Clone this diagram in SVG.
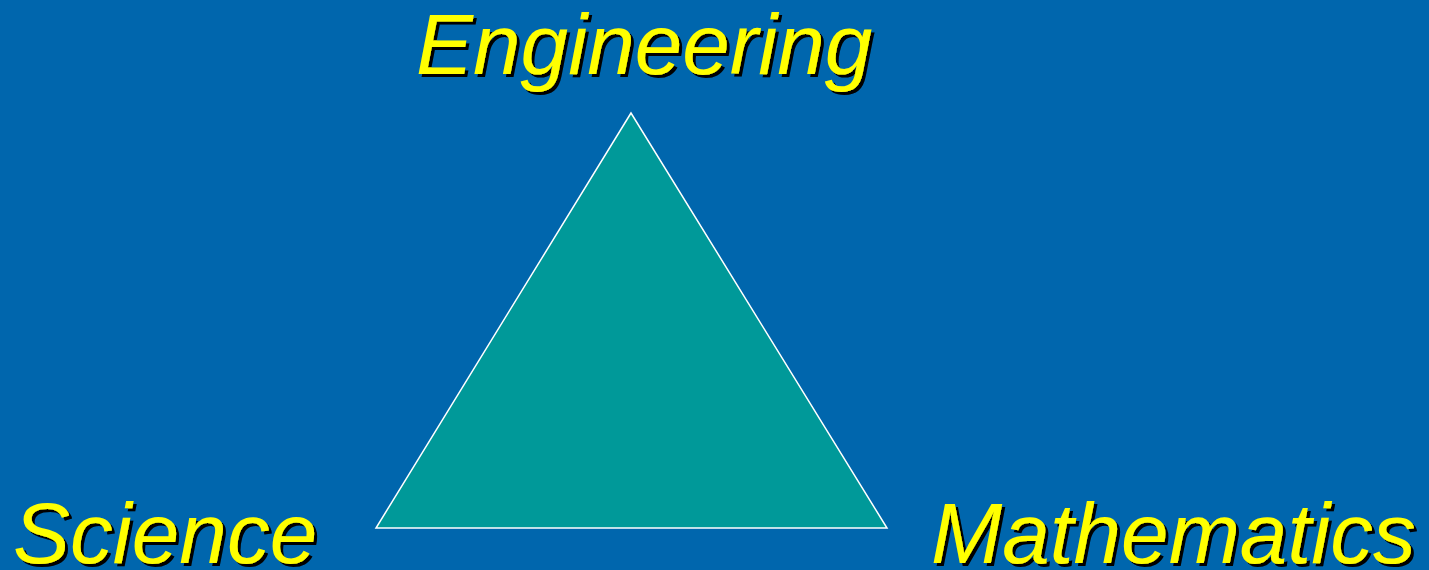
<svg xmlns="http://www.w3.org/2000/svg" width="1429" height="570" viewBox="0 0 1429 570">
<defs>
<filter id="shadow" x="-5%" y="-20%" width="110%" height="140%">
<feOffset in="SourceAlpha" dx="3" dy="3" result="off"/>
<feFlood flood-color="#000000"/>
<feComposite in2="off" operator="in" result="sh"/>
<feMerge><feMergeNode in="sh"/><feMergeNode in="SourceGraphic"/></feMerge>
</filter>
</defs>
<style>
.lbl{font-family:"Liberation Sans",Arial,sans-serif;font-style:italic;font-size:85.5px;fill:#FFFF00;filter:url(#shadow)}
</style>
<rect width="1429" height="570" fill="#0066AD"/>
<g id="triangle">
<polygon points="631,113 376,528 887,528" fill="#009999" stroke="#FFFFFF" stroke-width="1.5"/>
</g>
<g id="engineering">
<text class="lbl" x="416" y="74">Engineering</text>
</g>
<g id="science">
<text class="lbl" x="13" y="563">Science</text>
</g>
<g id="mathematics">
<text class="lbl" x="931" y="563">Mathematics</text>
</g>
<g id="connectors"></g>
</svg>
